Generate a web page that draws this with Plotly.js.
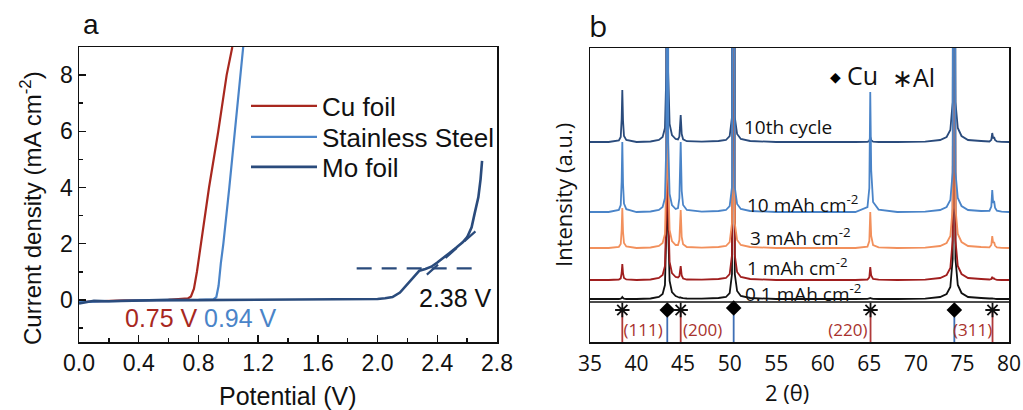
<!DOCTYPE html>
<html><head><meta charset="utf-8">
<script src="https://cdn.plot.ly/plotly-3.0.1.min.js"></script>
<style>body{margin:0;background:#fff}</style>
</head><body><div id="chart" style="width:1023px;height:410px"></div>
<script>
// ---------- Panel a: LSV curves ----------
const cuX = [0, 0.3, 0.6, 0.70, 0.73, 0.75, 0.77, 0.79, 0.817, 0.871, 0.933, 0.989, 1.027];
const cuY = [-0.08, -0.02, 0.0, 0.02, 0.05, 0.12, 0.4, 1.0, 2.0, 4.0, 6.0, 8.0, 9.0];
const ssX = [0, 0.4, 0.8, 0.90, 0.92, 0.935, 0.95, 0.967, 1.007, 1.045, 1.085, 1.10];
const ssY = [-0.08, -0.02, 0.0, 0.02, 0.1, 0.5, 1.3, 2.0, 4.0, 6.0, 8.0, 9.0];
const moX = [0, 0.05, 0.1, 0.2, 0.4, 0.6, 0.8, 1.0, 1.4, 1.8, 2.0, 2.05, 2.1, 2.15, 2.2, 2.25, 2.28, 2.32, 2.36, 2.4, 2.44, 2.48, 2.53, 2.57, 2.6, 2.63, 2.65, 2.675, 2.69, 2.70];
const moY = [-0.13, -0.09, -0.03, -0.05, -0.02, 0.0, -0.01, 0.0, 0.0, 0.02, 0.03, 0.06, 0.1, 0.26, 0.55, 0.85, 1.04, 1.1, 1.18, 1.33, 1.51, 1.66, 1.87, 2.05, 2.23, 2.58, 3.07, 3.65, 4.3, 4.95];
const onsetLineX = [1.86, 2.68];
const onsetLineY = [1.12, 1.12];
const tangentX = [2.33, 2.69];
const tangentY = [0.9, 2.6];

// ---------- Panel b: XRD patterns ----------
const twoTheta = [35, 37, 38.1, 38.3, 38.4, 38.47, 38.55, 38.65, 38.9, 40, 41.5, 42.4, 42.8, 43.05, 43.2, 43.3, 43.4, 43.55, 43.8, 44.2, 44.45, 44.6, 44.74, 44.85, 45.0, 45.4, 47, 48.8, 49.6, 50.0, 50.25, 50.4, 50.55, 50.8, 51.2, 52.2, 55, 60, 63.5, 64.8, 65.0, 65.1, 65.2, 65.4, 66, 68, 71, 72.6, 73.3, 73.7, 73.95, 74.1, 74.25, 74.5, 74.9, 75.6, 77, 77.9, 78.1, 78.2, 78.3, 78.4, 78.5, 78.7, 79.2, 80];
const int01mAh = [0,0,0,0.3,1,2,1,0.3,0,0,0.5,2,5,14,70,700,70,18,7,3,2,1.5,1.5,1,0.8,0.5,0.3,1,2,6,25,700,25,8,3,1,0,0,0,0.2,0.5,1,0.5,0.2,0,0,0.3,2,5,12,40,700,40,14,6,2,1,0.5,0.5,0.5,0.3,0.3,0.2,0,0,0];
const int1mAh = [0,0,0.5,1.6,7,16,6.5,2,0.6,0,0.5,2,5,14,70,700,70,18,7,3,2.5,4,14,4.5,1.5,0.5,0.3,1,2,6,25,700,25,8,3,1,0,0,0,0.5,2.6,13,4.5,1,0.3,0,0.3,2,5,12,40,700,40,14,6,2,1,0.5,1,3,1.5,1.5,0.7,0.2,0,0];
const int3mAh = [0,0,1.2,4,18,40,16,5,1.5,0,0.5,2,5,14,70,700,70,18,7,3,3,8,38,11,3.8,1,0.3,1,2,6,25,700,25,8,3,1,0,0,0,1.4,7,36,12,3,0.7,0,0.3,2,5,12,40,700,40,14,6,2,1,0.6,3,12,5,6,2.4,0.7,0.2,0];
const int10mAh = [0,0,2.1,7,31,70,28,8.4,2.8,0,0.5,2,5,14,70,700,70,18,7,3,4,14,70,21,7,2,0.3,1,2,6,25,700,25,8,3,1,0,0,0,4.8,24,120,42,10,2.4,0,0.3,2,5,12,40,700,40,14,6,2,1,1.1,5.5,22,9,11,4.4,1.3,0.3,0];
const int10th = [0,0,1.5,5,23,52,21,6,2,0,0.5,2,5,14,70,700,70,18,7,3,2.5,5.4,27,8,2.7,0.8,0.3,1,2,6,25,700,25,8,3,1,0,0,0,0.2,1,5,1.8,0.4,0,0,0.3,2,5,12,40,700,40,14,6,2,1,0.5,2.2,9,3.6,5,2,0.6,0.2,0];
const xrdNames = ['0.1 mAh cm<sup>-2</sup>', '1 mAh cm<sup>-2</sup>', '3 mAh cm<sup>-2</sup>', '10 mAh cm<sup>-2</sup>', '10th cycle'];
const xrdOffsets = [43, 62, 94, 130, 200];
const xrdLabelX = [51.4, 51.65, 51.97, 51.65, 51.3];
const xrdLabelY = [49, 75, 105, 138, 215];

// reference patterns
const alPeaks = [38.47, 44.74, 65.13, 78.23];
const alHeight = [30, 30, 30, 30];
const cuPeaks = [43.3, 50.43, 74.13];
const cuHeight = [25, 27, 25];
const hklLabels = ['(111)', '(200)', '(220)', '(311)'];
const hklX = [40.7, 47.1, 62.7, 76.1];

const FA = 'Liberation Sans, Arial, sans-serif';
const FB = 'Open Sans, sans-serif';
const C_CU = '#A8281F', C_SS = '#4A84C8', C_MO = '#2A4B7C';
const xrdColors = ['#111111', '#A01E1E', '#F2905C', '#4A84C8', '#2A4B7C'];

const traces = [];
traces.push({x: cuX, y: cuY, name: 'Cu foil', legend: 'legend', mode: 'lines', line: {color: C_CU, width: 2.2}, xaxis: 'x', yaxis: 'y'});
traces.push({x: ssX, y: ssY, name: 'Stainless Steel', legend: 'legend2', mode: 'lines', line: {color: C_SS, width: 2.2}, xaxis: 'x', yaxis: 'y'});
traces.push({x: moX, y: moY, name: 'Mo foil', legend: 'legend3', mode: 'lines', line: {color: C_MO, width: 2.6}, xaxis: 'x', yaxis: 'y'});
traces.push({x: onsetLineX, y: onsetLineY, mode: 'lines', showlegend: false, line: {color: C_MO, width: 2.4, dash: '15px,10px'}, xaxis: 'x', yaxis: 'y'});
traces.push({x: tangentX, y: tangentY, mode: 'lines', showlegend: false, line: {color: C_MO, width: 2.2, dash: '15px,10px'}, xaxis: 'x', yaxis: 'y'});

const xrdInts = [int01mAh, int1mAh, int3mAh, int10mAh, int10th];
const drawOrder = [0, 1, 2, 4, 3];
drawOrder.forEach(i => {
  traces.push({x: twoTheta, y: xrdInts[i].map(v => v + xrdOffsets[i]), mode: 'lines', showlegend: false,
    line: {color: xrdColors[i], width: 1.8, simplify: false}, xaxis: 'x2', yaxis: 'y2', hoverinfo: 'skip'});
});

function sticks(pos, h) {
  const xs = [], ys = [];
  pos.forEach((p, k) => { xs.push(p, p, null); ys.push(0, h[k], null); });
  return {xs, ys};
}
const al = sticks(alPeaks, alHeight), cu = sticks(cuPeaks, cuHeight);
traces.push({x: al.xs, y: al.ys, mode: 'lines', showlegend: false, line: {color: '#B03A3A', width: 1.8}, xaxis: 'x2', yaxis: 'y2'});
traces.push({x: cu.xs, y: cu.ys, mode: 'lines', showlegend: false, line: {color: '#3F6FB5', width: 1.8}, xaxis: 'x2', yaxis: 'y2'});
traces.push({x: cuPeaks, y: cuPeaks.map((p, k) => cuHeight[k] + 7), mode: 'markers', showlegend: false,
  marker: {symbol: 'diamond', size: 12, color: '#000'}, xaxis: 'x2', yaxis: 'y2', cliponaxis: false});
traces.push({x: alPeaks, y: alHeight.map(h => h + 2), mode: 'markers', showlegend: false,
  marker: {symbol: 'asterisk-open', size: 12, color: '#111', line: {color: '#111', width: 1.8}}, xaxis: 'x2', yaxis: 'y2', cliponaxis: false});
traces.push({x: hklX, y: hklX.map(() => 10), mode: 'text', text: hklLabels, textposition: 'middle center',
  textfont: {family: FB, size: 17, color: '#A8322D'}, showlegend: false, xaxis: 'x2', yaxis: 'y2'});

const ann = [];
const P = (px, py) => ({x: px / 1023, y: 1 - py / 410, xref: 'paper', yref: 'paper', xanchor: 'center', yanchor: 'middle', showarrow: false});
ann.push(Object.assign(P(91, 24), {text: 'a', font: {family: FA, size: 28, color: '#111'}}));
ann.push(Object.assign(P(598, 25), {text: 'b', font: {family: FB, size: 30, color: '#111'}}));
ann.push(Object.assign(P(161, 318), {text: '0.75 V', font: {family: FA, size: 25, color: C_CU}}));
ann.push(Object.assign(P(240, 318), {text: '0.94 V', font: {family: FA, size: 25, color: C_SS}}));
ann.push(Object.assign(P(455, 298), {text: '2.38 V', font: {family: FA, size: 25, color: '#111'}}));
ann.push(Object.assign(P(288, 396), {text: 'Potential (V)', font: {family: FA, size: 25, color: '#111'}}));
ann.push(Object.assign(P(31, 208), {text: 'Current density (mA cm<sup>-2</sup>)', textangle: -90, font: {family: FA, size: 24, color: '#111'}}));
ann.push(Object.assign(P(787, 392), {text: '2 (θ)', font: {family: FB, size: 22, color: '#111'}}));
ann.push(Object.assign(P(563, 195), {text: 'Intensity (a.u.)', textangle: -90, font: {family: FB, size: 22, color: '#111'}}));
ann.push(Object.assign(P(835, 77), {text: '◆', font: {family: 'DejaVu Sans', size: 14, color: '#000'}}));
ann.push(Object.assign(P(862, 75), {text: 'Cu', font: {family: FB, size: 25, color: '#111'}}));
ann.push(Object.assign(P(913, 77), {text: '∗Al', font: {family: FB, size: 25, color: '#111'}}));
xrdNames.forEach((n, i) => {
  ann.push({x: xrdLabelX[i], y: xrdLabelY[i], xref: 'x2', yref: 'y2', xanchor: 'left', yanchor: 'middle', showarrow: false,
    text: n, font: {family: FB, size: 19, color: '#111'}});
});

const legendStyle = (py) => ({x: 246 / 1023, y: 1 - py / 410, xanchor: 'left', yanchor: 'middle', bgcolor: 'rgba(0,0,0,0)',
  font: {family: FA, size: 26, color: '#111'}, itemwidth: 66, borderwidth: 0});
const axLine = {showline: true, linecolor: '#111', linewidth: 1.5, mirror: true, showgrid: false, zeroline: false};
const layout = {
  width: 1023, height: 410, margin: {l: 0, r: 0, t: 0, b: 0},
  paper_bgcolor: '#fff', plot_bgcolor: '#fff', showlegend: true,
  legend: legendStyle(106), legend2: legendStyle(137), legend3: legendStyle(167),
  xaxis: Object.assign({domain: [79 / 1023, 497 / 1023], range: [0, 2.8], anchor: 'y', tick0: 0, dtick: 0.4, tickformat: '.1f',
    ticks: 'inside', ticklen: 7, tickwidth: 1.5, tickcolor: '#111', tickfont: {family: FA, size: 23, color: '#111'},
    minor: {ticks: 'inside', ticklen: 4, tickwidth: 1.5, tickcolor: '#111', tick0: 0, dtick: 0.2, showgrid: false}}, axLine),
  yaxis: Object.assign({domain: [1 - 342 / 410, 1 - 47 / 410], range: [-1.5, 9], anchor: 'x', tick0: 0, dtick: 2,
    ticks: 'inside', ticklen: 7, tickwidth: 1.5, tickcolor: '#111', tickfont: {family: FA, size: 23, color: '#111'},
    minor: {ticks: 'inside', ticklen: 4, tickwidth: 1.5, tickcolor: '#111', tick0: 0, dtick: 1, showgrid: false}}, axLine),
  xaxis2: Object.assign({domain: [590 / 1023, 1009 / 1023], range: [35, 80], anchor: 'y2', tick0: 35, dtick: 5,
    ticks: '', ticklabelstandoff: 2, tickfont: {family: FB, size: 21, color: '#111'}}, axLine),
  yaxis2: Object.assign({domain: [1 - 342 / 410, 1 - 48 / 410], range: [0, 294], anchor: 'x2', ticks: '', showticklabels: false}, axLine),
  shapes: [{type: 'line', xref: 'x2', yref: 'y2', x0: 35, x1: 80, y0: 40, y1: 40, line: {color: '#111', width: 1.5}}],
  annotations: ann
};
Plotly.newPlot('chart', traces, layout, {displayModeBar: false, staticPlot: true});
</script></body></html>
